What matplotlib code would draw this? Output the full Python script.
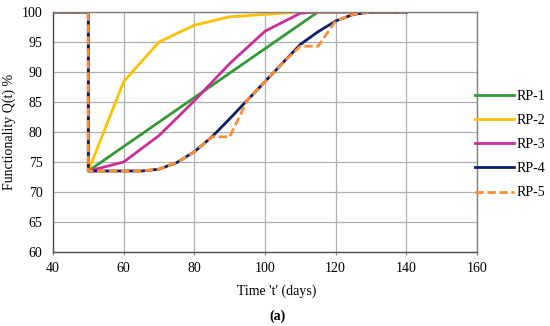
import matplotlib
matplotlib.use("Agg")
import matplotlib.pyplot as plt

# Data
days = [40, 50, 50, 55, 60, 65, 70, 75, 80, 85, 90, 95, 100, 105, 110, 115, 120, 125, 130, 135, 140]
rp1_x = [40, 50, 50, 115, 120, 130, 140]
rp1_y = [100, 100, 73.5, 100, 100, 100, 100]
rp2_x = [40, 50, 50, 60, 70, 80, 90, 100, 110, 120, 130, 140]
rp2_y = [100, 100, 73.5, 88.4, 95.0, 97.8, 99.2, 99.6, 100, 100, 100, 100]
rp3_x = [40, 50, 50, 60, 70, 80, 90, 100, 110, 115, 120, 130, 140]
rp3_y = [100, 100, 73.5, 75.0, 79.4, 85.2, 91.4, 96.8, 99.8, 100, 100, 100, 100]
rp4_y = [100, 100, 73.5, 73.5, 73.5, 73.5, 73.8, 74.9, 76.7, 79.2, 82.2, 85.3, 88.4, 91.5, 94.6, 96.7, 98.5, 99.6, 100, 100, 100]
rp5_y = [100, 100, 73.5, 73.5, 73.5, 73.5, 73.8, 74.9, 76.7, 79.2, 79.2, 85.3, 88.4, 91.5, 94.3, 94.3, 98.5, 99.6, 100, 100, 100]
labels = ["RP-1", "RP-2", "RP-3", "RP-4", "RP-5"]
x_ticks = [40, 60, 80, 100, 120, 140, 160]
y_ticks = [60, 65, 70, 75, 80, 85, 90, 95, 100]

plt.rcParams['font.family'] = ['Liberation Serif', 'DejaVu Serif']
fs = 10

fig = plt.figure(figsize=(5.5, 3.26), dpi=100)
ax = fig.add_axes([53/550, 1-252/326, (477-53)/550, (252-12)/326])

lw = 2.0
ax.plot(rp1_x, rp1_y, color="#339933", lw=lw, label=labels[0])
ax.plot(rp2_x, rp2_y, color="#FFC000", lw=lw, label=labels[1])
ax.plot(rp3_x, rp3_y, color="#CC2E99", lw=lw, label=labels[2])
ax.plot(days, rp4_y, color="#0A1F66", lw=lw, label=labels[3])
ax.plot(days, rp5_y, color="#FF8C33", lw=lw, ls=(0, (3, 1.3)), label=labels[4])

ax.set_xlim(40, 160)
ax.set_ylim(60, 100)
ax.set_xticks(x_ticks)
ax.set_yticks(y_ticks)
ax.grid(True, color="#b0b0b0", lw=0.9)
ax.set_axisbelow(True)
for s in ['left', 'bottom']:
    ax.spines[s].set_color("#505050")
    ax.spines[s].set_linewidth(1.0)
for s in ['top', 'right']:
    ax.spines[s].set_color("#808080")
    ax.spines[s].set_linewidth(1.0)
ax.tick_params(axis='both', labelsize=fs, length=2, color="#808080")
ax.tick_params(axis='y', length=0, pad=7.5)
ax.tick_params(axis='x', pad=5)

ax.set_ylabel("Functionality Q(t) %", fontsize=fs, labelpad=4)
fig.text(277/550, 1-291/326, "Time 't' (days)", fontsize=fs, ha='center', va='center')
fig.text(277/550, 1-316/326, "(a)", fontsize=fs, ha='center', va='center', fontweight='bold')

leg = ax.legend(loc='upper left', bbox_to_anchor=(1.0 - 0.004, 1 - (90 - 12) / 240), frameon=False,
                fontsize=fs, handlelength=2.8, handletextpad=0.2, labelspacing=0.8,
                borderaxespad=0, borderpad=0)

fig.savefig("out.png", dpi=100)
